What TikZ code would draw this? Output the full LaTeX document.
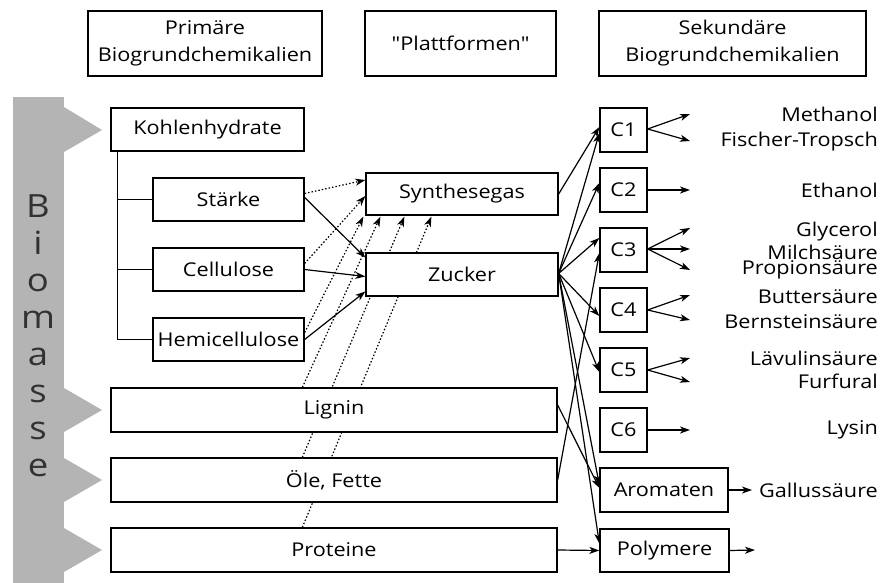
\documentclass[tikz,border=0pt]{standalone}
\usepackage{fontspec}
\setmainfont{Open Sans}[Ligatures=TeXOff,FakeStretch=1.14]
\usetikzlibrary{arrows.meta,calc}
\pgfdeclarelayer{lines}
\pgfsetlayers{lines,main}
\definecolor{band}{RGB}{180,180,180}
\definecolor{bandtext}{RGB}{50,50,50}
\begin{document}
\begin{tikzpicture}[x=1pt,y=-1pt,
  box/.style={draw,line width=1.3pt,fill=white,inner sep=0pt,align=center,
    font=\fontsize{19}{27}\selectfont},
  arr/.style={line width=1.2pt,-{Stealth[length=10pt,width=7pt,inset=2.8pt]}},
  dots/.style={arr,dash pattern=on 1.5pt off 2pt},
  lbl/.style={anchor=east,inner sep=0pt,font=\fontsize{19}{22}\selectfont},
  letter/.style={anchor=base,inner sep=0pt,text=bandtext,font=\fontsize{32}{32}\selectfont}]
\useasboundingbox (0,0) rectangle (881,583);

% grey band
\fill[band] (13,97) rectangle (64,583);
\fill[band] (64,107) -- (102,130) -- (64,152) -- cycle;
\fill[band] (64,388) -- (102,410) -- (64,432) -- cycle;
\fill[band] (64,458) -- (102,480) -- (64,502) -- cycle;
\fill[band] (64,528) -- (102,550) -- (64,572) -- cycle;
\foreach \l [count=\i from 0] in {B,i,o,m,a,s,s,e}
  \node[letter] (bio\i) at (38,217+37*\i) {\l};

% header boxes
\node[box,minimum width=234pt,minimum height=65pt] (h1) at (205,43.5) {Primäre\\Biogrundchemikalien};
\node[box,minimum width=191pt,minimum height=65pt] (h2) at (460.5,43.5) {"Plattformen"};
\node[box,minimum width=267pt,minimum height=65pt] (h3) at (732.5,43.5) {Sekundäre\\Biogrundchemikalien};

% left column
\node[box,minimum width=193pt,minimum height=43pt] (kohl) at (207.5,129.5) {Kohlenhydrate};
\node[box,minimum width=151pt,minimum height=43pt] (staerke) at (228.5,199.5) {Stärke};
\node[box,minimum width=151pt,minimum height=43pt] (cell) at (228.5,269.5) {Cellulose};
\node[box,minimum width=151pt,minimum height=43pt] (hemi) at (228.5,339.5) {Hemicellulose};
\node[box,minimum width=446pt,minimum height=44pt] (lignin) at (334,410) {Lignin};
\node[box,minimum width=446pt,minimum height=44pt] (oele) at (334,480) {Öle, Fette};
\node[box,minimum width=446pt,minimum height=44pt] (prot) at (334,550) {Proteine};

% platforms
\node[box,minimum width=192pt,minimum height=42pt] (syn) at (462,194) {Synthesegas};
\node[box,minimum width=192pt,minimum height=43pt] (zuck) at (462,274.5) {Zucker};

% C boxes
\foreach \n/\y in {1/130,2/190,3/250,4/310,5/370,6/430}
  \node[box,minimum width=47pt,minimum height=44pt] (c\n) at (623.5,\y) {C\n};
\node[box,minimum width=128pt,minimum height=44pt] (arom) at (664,490) {Aromaten};
\node[box,minimum width=129pt,minimum height=43pt] (poly) at (664.5,550.5) {Polymere};

% product labels
\node[lbl] (t1) at (878,114) {Methanol};
\node[lbl] (t2) at (878,142) {Fischer-Tropsch};
\node[lbl] (t3) at (878,190) {Ethanol};
\node[lbl] (t4) at (878,232) {Glycerol};
\node[lbl] (t5) at (878,252) {Milchsäure};
\node[lbl] (t6) at (878,270) {Propionsäure};
\node[lbl] (t7) at (878,297) {Buttersäure};
\node[lbl] (t8) at (878,322) {Bernsteinsäure};
\node[lbl] (t9) at (878,358) {Lävulinsäure};
\node[lbl] (t10) at (878,381) {Furfural};
\node[lbl] (t11) at (878,430) {Lysin};
\node[lbl] (t12) at (878,490) {Gallussäure};

% free ends of output arrows
\coordinate (o1a) at (690,114);
\coordinate (o1b) at (690,141);
\coordinate (o2) at (690,190);
\coordinate (o3a) at (690,228);
\coordinate (o3b) at (690,249);
\coordinate (o3c) at (690,270);
\coordinate (o4a) at (690,295);
\coordinate (o4b) at (690,320);
\coordinate (o5a) at (690,358);
\coordinate (o5b) at (690,382);
\coordinate (o6) at (690,430);
\coordinate (oar) at (752,490);
\coordinate (opo) at (755,550);

\begin{pgfonlayer}{lines}
% tree
\draw[line width=1.3pt] (kohl.south west) ++(7,0) coordinate (tr) -- (tr |- hemi.west) -- (hemi.west);
\draw[line width=1.3pt] (tr |- staerke.west) -- (staerke.west);
\draw[line width=1.3pt] (tr |- cell.west) -- (cell.west);

% dotted to Synthesegas
\draw[dots] ($(staerke.east)+(0,-6)$) -- ($(syn.west)+(0,-14)$);
\draw[dots] ($(cell.east)+(0,-6)$) -- ($(syn.west)+(0,2)$);
\draw[dots] ($(hemi.east)+(0,-7)$) -- ($(syn.south west)+(-2,1)$);
\draw[dots] ($(lignin.north west)+(192,0)$) -- ($(syn.south west)+(15,1)$);
\draw[dots] ($(oele.north west)+(192,0)$) -- ($(syn.south west)+(39,1)$);
\draw[dots] ($(prot.north west)+(192,0)$) -- ($(syn.south west)+(66,1)$);

% solid to Zucker
\draw[arr] ($(staerke.east)+(0,-2)$) -- ($(zuck.west)+(0,-17)$);
\draw[arr] (cell.east) -- ($(zuck.west)+(0,2)$);
\draw[arr] (hemi.east) -- ($(zuck.west)+(0,17)$);

% platforms to C
\draw[arr] (syn.east) -- ($(c1.west)+(0,-3)$);
\draw[arr] ($(zuck.east)+(0,-1)$) -- ($(c1.west)+(0,3)$);
\draw[arr] ($(zuck.east)+(0,-1)$) -- ($(c2.west)+(0,-7)$);
\draw[arr] ($(zuck.east)+(0,-1)$) -- ($(c3.west)+(0,-12)$);
\draw[arr] ($(zuck.east)+(0,-1)$) -- ($(c4.west)+(0,6)$);
\draw[arr] ($(zuck.east)+(0,-1)$) -- ($(c5.west)+(0,2)$);
\draw[arr] ($(zuck.east)+(0,-1)$) -- ($(arom.west)+(0,-5)$);
\draw[arr] ($(zuck.east)+(0,-1)$) -- ($(poly.west)+(0,-7)$);
\draw[arr] ($(lignin.east)+(0,-5)$) -- ($(arom.west)+(0,-2)$);
\draw[arr] (oele.east) -- ($(c3.west)+(0,3)$);
\draw[arr] (prot.east) -- (poly.west);

% outputs
\draw[arr] ($(c1.east)+(0,-1)$) -- (o1a);
\draw[arr] ($(c1.east)+(0,-1)$) -- (o1b);
\draw[arr] (c2.east) -- (o2);
\draw[arr] ($(c3.east)+(0,-1)$) -- (o3a);
\draw[arr] ($(c3.east)+(0,-1)$) -- (o3b);
\draw[arr] ($(c3.east)+(0,-1)$) -- (o3c);
\draw[arr] (c4.east) -- (o4a);
\draw[arr] (c4.east) -- (o4b);
\draw[arr] (c5.east) -- (o5a);
\draw[arr] (c5.east) -- (o5b);
\draw[arr] (c6.east) -- (o6);
\draw[arr] (arom.east) -- (oar);
\draw[arr] (poly.east) -- (opo);
\end{pgfonlayer}
\end{tikzpicture}
\end{document}
